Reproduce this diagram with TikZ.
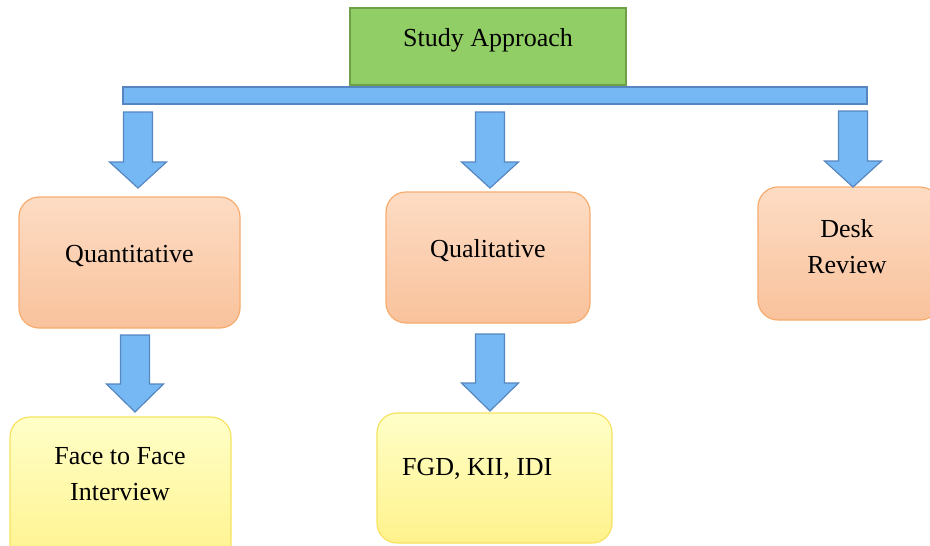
\documentclass[tikz,border=0pt]{standalone}
\usepackage{fontspec}
\setmainfont{Liberation Serif}
\definecolor{sagreen}{RGB}{145,206,101}
\definecolor{sagreenb}{RGB}{110,160,72}
\definecolor{barblue}{RGB}{118,184,243}
\definecolor{barblueb}{RGB}{86,134,192}
\definecolor{orgtop}{RGB}{253,220,196}
\definecolor{orgbot}{RGB}{249,194,156}
\definecolor{orgb}{RGB}{247,172,110}
\definecolor{yeltop}{RGB}{255,255,200}
\definecolor{yelbot}{RGB}{255,242,140}
\definecolor{yelb}{RGB}{246,226,96}
\tikzset{
  sabox/.style={draw=sagreenb, line width=1.6pt, fill=sagreen, minimum width=276pt, minimum height=77pt, inner sep=0pt},
  orgbox/.style={draw=orgb, line width=1.2pt, rounded corners=20pt, top color=orgtop, bottom color=orgbot, inner sep=0pt},
  yelbox/.style={draw=yelb, line width=1.2pt, rounded corners=20pt, top color=yeltop, bottom color=yelbot, inner sep=0pt},
  lbl/.style={font=\fontsize{26}{36}\selectfont, align=center, inner sep=0pt},
  blockarr/.style={draw=barblueb, line width=1.2pt, fill=barblue, line join=miter},
}
\begin{document}
\begin{tikzpicture}[x=1pt,y=-1pt]
\useasboundingbox (0,0) rectangle (930,546);
\clip (0,0) rectangle (930,546);
% top box
\node[sabox] (sa) at (488,46.5) {};
\node[lbl] (satext) at (488,40) {Study Approach};
% bar
\node[draw=barblueb, line width=1.2pt, fill=barblue, minimum width=744pt, minimum height=17pt, inner sep=0pt] (bar) at (495,95.5) {};
% boxes
\node[orgbox, minimum width=221pt, minimum height=131pt] (quant) at (129.5,262.5) {};
\node[lbl] (quanttext) at (129.5,255.5) {Quantitative};
\node[orgbox, minimum width=204pt, minimum height=131pt] (qual) at (488,257.5) {};
\node[lbl] (qualtext) at (488,250.5) {Qualitative};
\node[orgbox, minimum width=182pt, minimum height=133pt] (desk) at (849,253.5) {};
\node[lbl] (desktext) at (847,246.5) {Desk\\Review};
\node[yelbox, minimum width=221pt, minimum height=150pt] (ftf) at (120.5,492) {};
\node[lbl] (ftftext) at (120,474.5) {Face to Face\\Interview};
\node[yelbox, minimum width=235pt, minimum height=130pt] (fgd) at (494.5,478) {};
\node[lbl, anchor=west] (fgdtext) at (402,468.5) {FGD, KII, IDI};
% arrows: tip coordinates
\coordinate (t1) at (138,188);
\coordinate (t2) at (490,188);
\coordinate (t3) at (853,187);
\coordinate (t4) at (135,412);
\coordinate (t5) at (490,411);
\foreach \t in {t1,t2,t3}{
  \draw[blockarr] (\t) -- ++(-28.5,-26) -- ++(14,0) -- ++(0,-50) -- ++(29,0) -- ++(0,50) -- ++(14,0) -- cycle;
}
\foreach \t in {t4,t5}{
  \draw[blockarr] (\t) -- ++(-28.5,-28) -- ++(14,0) -- ++(0,-49) -- ++(29,0) -- ++(0,49) -- ++(14,0) -- cycle;
}
\end{tikzpicture}
\end{document}
